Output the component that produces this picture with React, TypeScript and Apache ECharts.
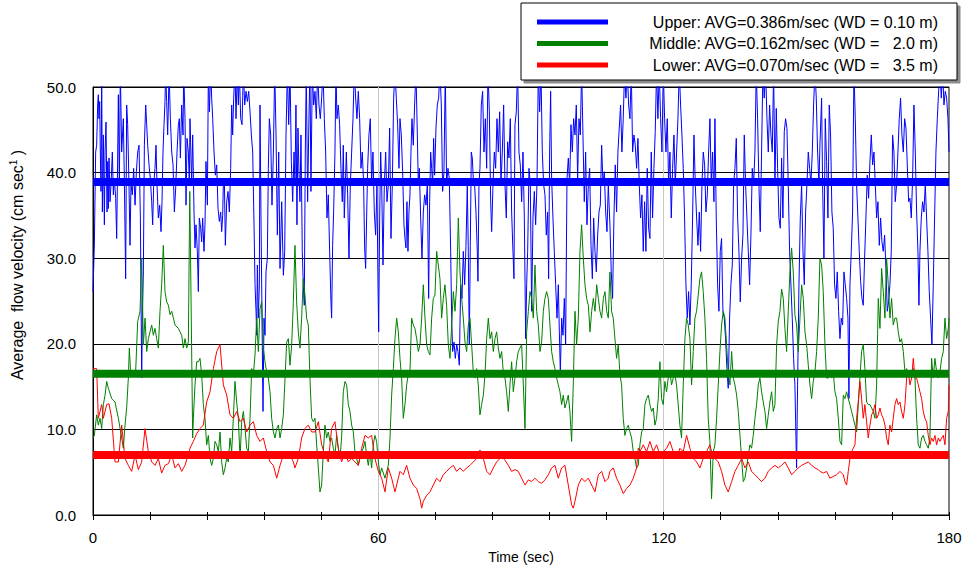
import React, { useEffect, useRef } from "react";
import * as echarts from "echarts";

// ---- Data (time in seconds, velocity in cm/s) ----
const seriesNames = [
  "Upper: AVG=0.386m/sec (WD = 0.10 m)",
  "Middle: AVG=0.162m/sec (WD =   2.0 m)",
  "Lower: AVG=0.070m/sec (WD =   3.5 m)",
];
const seriesColors = ["#0000FF", "#008000", "#FF0000"];
const averageLevels = [38.9, 16.5, 7.0];
const xRange = [0, 180];
const xTickStep = 12;
const xLabelStep = 60;
const yRange = [0, 50];
const yTickStep = 10;

const upperData: [number, number][] = [
  [0.0,26.1],[0.28,31.5],[0.56,42.4],[0.77,43.2],[0.98,47.9],[1.12,49.1],[1.26,46.3],[1.40,48.3],[1.54,42.4],[1.68,37.8],[1.83,52],[1.97,35.4],[2.18,44.4],[2.39,33.9],[2.53,42.4],[2.74,45.9],[2.95,35.4],[3.09,41.3],[3.23,35.8],[3.37,41.7],[3.58,36.6],[3.79,38.6],[4.07,42.4],[4.28,37.4],[4.49,39.3],[4.77,37.0],[4.98,32.3],[5.12,38.6],[5.33,49.1],[5.54,38.6],[5.75,52],[6.03,42.4],[6.38,46.3],[6.59,39.3],[6.87,27.6],[7.08,47.9],[7.29,45.6],[7.57,38.6],[7.78,31.5],[7.99,38.6],[8.27,37.4],[8.55,40.5],[8.84,36.2],[9.12,40.1],[9.40,42.4],[9.68,43.2],[9.96,34.7],[10.24,16.0],[10.38,23.0],[10.59,28.4],[10.80,43.2],[11.08,47.9],[11.29,45.6],[11.50,43.2],[11.78,40.9],[12.06,39.3],[12.34,36.6],[12.55,33.9],[12.76,38.6],[13.04,40.5],[13.25,43.2],[13.46,38.6],[13.74,34.7],[14.02,36.2],[14.30,33.1],[14.51,36.6],[14.72,42.4],[14.93,45.6],[15.14,48.3],[15.28,52],[15.49,48.3],[15.70,44.4],[15.85,47.9],[15.99,52],[16.27,46.3],[16.55,42.4],[16.83,40.9],[17.11,35.4],[17.39,38.2],[17.67,42.4],[17.95,45.6],[18.16,46.3],[18.37,41.7],[18.65,47.9],[18.93,44.4],[19.07,52],[19.35,46.3],[19.56,36.2],[19.77,44.0],[20.05,42.4],[20.26,38.6],
  [20.40,46.3],[20.75,38.6],[20.96,44.4],[21.24,35.4],[21.45,31.2],[21.66,33.9],[21.94,30.8],[22.15,26.1],[22.36,34.7],[22.64,33.5],[22.85,31.9],[23.06,34.7],[23.34,30.8],[23.55,33.9],[23.76,41.3],[24.05,36.2],[24.26,52],[24.47,47.1],[24.75,52],[24.96,48.7],[25.17,46.3],[25.45,42.4],[25.73,39.7],[26.01,40.9],[26.29,35.8],[26.57,34.3],[26.85,35.4],[27.06,33.1],[27.27,35.0],[27.41,38.6],[27.62,39.3],[27.83,31.5],[28.11,36.6],[28.39,37.8],[28.67,35.4],[28.95,40.5],[29.16,47.9],[29.37,44.4],[29.58,48.7],[29.86,52],[30.07,46.3],[30.35,52],[30.56,47.9],[30.77,52],[31.06,46.3],[31.34,45.6],[31.62,52],[31.90,47.9],[32.18,49.5],[32.46,48.3],[32.74,49.5],[33.02,47.1],[33.30,44.4],[33.58,42.4],[33.86,33.9],[34.07,26.9],[34.28,23.8],[34.42,21.0],[34.56,29.2],[34.77,23.0],[34.98,26.9],[35.12,47.9],[35.33,34.7],[35.54,23.0],[35.75,12.1],[35.96,23.0],[36.17,21.0],[36.38,28.4],[36.66,30.0],[36.87,40.5],[37.08,46.3],[37.36,44.4],[37.64,36.2],[37.93,42.4],[38.21,52],[38.49,44.4],[38.77,32.7],[39.05,42.4],[39.33,28.8],[39.68,36.6],[40.03,28.0],[40.31,30.8],[40.59,44.4],[40.87,52],[41.15,45.6],[41.43,52],[41.71,41.3],[41.99,36.6],[42.27,42.4],
  [42.47,38.6],[42.68,47.9],[42.89,33.9],[43.10,45.2],[43.31,40.1],[43.52,36.6],[43.73,44.4],[44.01,30.8],[44.22,26.9],[44.43,24.5],[44.64,42.4],[44.85,52],[45.13,36.6],[45.41,46.3],[45.62,52],[45.83,37.8],[46.12,52],[46.40,47.9],[46.68,49.5],[46.96,46.3],[47.24,52],[47.52,47.9],[47.80,46.3],[48.08,48.7],[48.36,52],[48.64,46.3],[48.92,42.4],[49.20,34.7],[49.48,37.4],[49.76,30.8],[50.04,24.9],[50.18,23.0],[50.39,31.5],[50.60,35.4],[50.88,42.4],[51.09,52],[51.30,46.3],[51.58,47.9],[51.86,45.6],[52.14,40.5],[52.42,36.6],[52.63,43.2],[52.84,34.7],[53.06,38.6],[53.27,42.4],[53.55,37.4],[53.83,30.0],[54.11,38.6],[54.39,42.4],[54.67,46.3],[54.95,52],[55.23,48.7],[55.51,46.3],[55.79,49.5],[56.07,46.3],[56.35,40.5],[56.63,42.4],[56.91,38.6],[57.12,31.2],[57.33,28.8],[57.54,34.7],[57.75,40.5],[58.03,44.4],[58.31,46.3],[58.59,38.6],[58.87,42.4],[59.15,35.4],[59.43,32.7],[59.71,38.6],[59.93,26.9],[60.07,21.4],[60.28,34.7],[60.49,42.4],[60.70,38.6],[60.98,29.2],[61.26,38.6],[61.54,42.4],[61.82,36.6],[62.10,38.6],[62.38,45.2],[62.66,32.3],[62.94,38.6],[63.22,48.7],[63.50,52],[63.78,48.7],[64.06,45.6],[64.34,40.5],
  [64.55,46.3],[64.83,44.4],[65.11,40.1],[65.39,33.9],[65.60,32.3],[65.81,31.2],[66.02,36.6],[66.23,30.8],[66.44,35.4],[66.65,37.4],[66.86,42.4],[67.07,46.3],[67.35,43.2],[67.63,47.9],[67.91,52],[68.20,44.4],[68.41,38.6],[68.62,40.5],[68.90,34.7],[69.18,30.0],[69.46,35.4],[69.74,37.4],[70.02,36.2],[70.30,38.6],[70.58,25.3],[70.79,36.6],[71.00,42.4],[71.21,40.5],[71.42,38.6],[71.63,44.0],[71.84,39.7],[72.12,45.2],[72.40,47.9],[72.68,48.7],[72.96,52],[73.24,47.9],[73.52,37.8],[73.80,40.1],[74.08,52],[74.36,38.6],[74.64,40.5],[74.92,39.3],[75.21,30.8],[75.42,23.0],[75.63,19.1],[75.91,20.2],[76.19,18.3],[76.47,19.9],[76.75,19.1],[77.03,17.5],[77.31,26.9],[77.59,25.3],[77.87,30.8],[78.15,26.9],[78.43,31.5],[78.71,38.6],[78.92,30.8],[79.13,19.9],[79.34,31.5],[79.55,42.4],[79.76,41.7],[79.97,39.3],[80.25,38.6],[80.53,35.4],[80.81,30.8],[80.95,27.3],[81.16,38.6],[81.37,40.5],[81.65,47.9],[81.93,49.5],[82.22,42.4],[82.50,46.3],[82.78,40.5],[83.06,52],[83.34,47.1],[83.62,36.6],[83.83,33.1],[84.11,38.6],[84.39,42.4],[84.67,40.5],[84.95,46.3],[85.23,42.4],[85.51,47.1],[85.79,38.6],[86.07,42.4],[86.35,47.9],
  [86.63,38.6],[86.91,34.7],[87.19,43.6],[87.47,41.7],[87.75,46.3],[88.03,35.4],[88.31,30.8],[88.52,27.6],[88.73,45.6],[89.01,47.1],[89.29,52],[89.57,42.4],[89.85,40.9],[90.14,36.6],[90.42,42.4],[90.70,34.7],[90.98,20.6],[91.19,26.9],[91.40,30.8],[91.68,40.5],[91.96,38.6],[92.24,23.8],[92.52,34.7],[92.80,37.8],[93.08,33.9],[93.36,38.6],[93.64,52],[93.92,47.1],[94.20,52],[94.48,42.4],[94.76,38.6],[95.04,37.4],[95.32,32.7],[95.60,35.4],[95.81,27.6],[96.02,42.4],[96.23,49.5],[96.44,39.3],[96.72,34.7],[97.00,30.8],[97.29,26.9],[97.57,23.0],[97.85,26.9],[98.06,21.4],[98.27,16.7],[98.55,23.0],[98.83,21.0],[99.11,25.3],[99.39,19.9],[99.67,39.3],[99.95,41.7],[100.23,38.6],[100.51,45.6],[100.79,42.4],[101.07,46.3],[101.35,44.4],[101.63,47.9],[101.91,39.3],[102.19,46.3],[102.47,44.4],[102.75,52],[103.03,44.4],[103.31,36.6],[103.59,42.4],[103.87,33.9],[104.16,38.6],[104.44,40.5],[104.72,31.5],[105.00,27.6],[105.28,34.7],[105.56,30.8],[105.84,28.4],[106.12,32.7],[106.40,35.4],[106.68,36.2],[106.96,43.2],[107.24,38.6],[107.52,40.1],[107.80,35.4],[108.08,33.1],[108.36,38.6],
  [108.70,33.9],[108.98,28.4],[109.26,25.3],[109.54,34.7],[109.82,40.9],[110.10,35.4],[110.38,42.4],[110.66,45.2],[110.94,47.9],[111.22,42.4],[111.50,46.3],[111.78,52],[112.06,48.7],[112.35,52],[112.63,47.9],[112.91,46.3],[113.19,52],[113.47,42.4],[113.75,44.4],[114.03,43.2],[114.31,40.5],[114.59,44.0],[114.87,38.6],[115.15,34.7],[115.43,37.4],[115.71,30.8],[115.99,36.6],[116.27,30.8],[116.55,40.5],[116.83,33.5],[117.11,32.3],[117.39,42.4],[117.67,34.7],[117.95,40.5],[118.23,44.8],[118.51,52],[118.79,46.3],[119.07,52],[119.36,46.3],[119.64,42.4],[119.92,52],[120.20,46.3],[120.48,42.4],[120.76,46.3],[121.04,38.6],[121.32,42.4],[121.60,34.7],[121.88,40.5],[122.16,44.4],[122.44,38.6],[122.72,42.4],[123.00,46.3],[123.28,52],[123.56,47.9],[123.84,44.4],[124.12,40.5],[124.40,34.7],[124.68,26.9],[124.96,23.0],[125.24,26.1],[125.52,22.2],[125.80,26.9],[126.08,34.7],[126.37,44.4],[126.65,38.6],[126.93,34.7],[127.21,31.5],[127.49,35.4],[127.77,30.8],[128.05,38.6],[128.33,42.4],[128.61,40.9],[128.89,35.4],[129.17,37.4],[129.45,42.4],[129.73,46.3],[130.01,38.6],[130.29,42.4],[130.57,36.6],
  [130.78,46.3],[131.06,34.7],[131.34,26.9],[131.62,23.8],[131.90,30.8],[132.18,32.3],[132.46,23.8],[132.74,23.0],[133.02,20.6],[133.30,17.1],[133.58,14.8],[133.86,23.0],[134.14,26.9],[134.43,29.2],[134.71,38.6],[134.99,40.5],[135.27,44.0],[135.55,34.7],[135.83,30.8],[136.11,24.9],[136.39,30.0],[136.67,32.7],[136.95,44.4],[137.23,38.6],[137.51,34.7],[137.79,30.8],[138.07,26.9],[138.35,32.7],[138.63,40.5],[138.91,38.6],[139.19,42.4],[139.47,52],[139.75,46.3],[140.03,38.6],[140.31,33.1],[140.59,42.4],[140.87,52],[141.15,48.7],[141.44,52],[141.72,46.3],[142.00,42.4],[142.28,47.9],[142.56,44.4],[142.84,42.4],[143.12,52],[143.40,38.6],[143.68,47.5],[143.96,40.5],[144.24,34.7],[144.52,33.5],[144.80,41.7],[145.08,34.7],[145.36,44.8],[145.64,46.3],[145.92,45.2],[146.20,38.6],[146.48,30.8],[146.76,26.9],[147.04,23.0],[147.32,18.3],[147.60,15.2],[147.81,9.3],[147.95,5.5],[148.16,15.2],[148.45,26.9],[148.73,34.7],[149.01,38.6],[149.29,30.8],[149.57,26.9],[149.85,35.4],[150.13,38.6],[150.41,42.4],[150.69,40.5],[150.97,38.6],[151.25,42.4],[151.53,47.9],[151.81,52],[152.09,48.7],[152.37,42.4],[152.65,38.6],
  [152.86,43.2],[153.21,48.7],[153.42,38.6],[153.70,30.0],[153.98,46.3],[154.26,41.3],[154.54,34.7],[154.82,47.9],[155.10,44.4],[155.38,35.4],[155.66,33.5],[155.94,26.9],[156.22,25.3],[156.51,28.4],[156.79,23.8],[157.07,20.6],[157.35,23.0],[157.63,22.2],[157.91,28.4],[158.19,26.9],[158.47,25.3],[158.75,23.0],[158.96,13.6],[159.17,26.9],[159.45,30.8],[159.73,35.4],[160.01,52],[160.29,46.3],[160.57,38.6],[160.85,34.7],[161.13,30.8],[161.41,27.3],[161.69,25.3],[161.97,24.5],[162.25,30.0],[162.53,34.7],[162.81,39.7],[163.09,37.0],[163.38,41.3],[163.66,44.4],[163.94,40.9],[164.22,42.4],[164.50,38.6],[164.78,34.7],[165.06,36.6],[165.34,31.5],[165.62,34.7],[165.90,31.9],[166.18,30.8],[166.46,32.7],[166.74,28.8],[167.02,23.8],[167.30,24.9],[167.58,26.9],[167.86,30.8],[168.14,44.4],[168.42,42.4],[168.70,36.6],[168.98,38.6],[169.26,42.4],[169.54,46.3],[169.82,48.7],[170.10,44.4],[170.39,42.4],[170.67,46.3],[170.95,45.2],[171.23,40.9],[171.51,36.6],[171.79,37.0],[172.07,34.7],[172.35,39.3],[172.63,47.9],[172.91,42.4],[173.19,35.4],[173.47,30.8],[173.68,24.5],[173.89,30.8],[174.17,34.7],[174.45,36.6],[174.73,35.4],[175.01,38.6],[175.29,34.7],[175.57,30.8],[175.85,26.1],[176.13,23.0],[176.41,19.9],[176.69,26.9],[176.97,34.7],[177.25,42.4],[177.54,46.3],[177.82,49.5],[178.10,52],[178.38,48.7],[178.66,52],[178.94,47.9],[179.22,49.5],[179.50,48.7],[179.78,46.3],[180,42.4],
];

const middleData: [number, number][] = [
  [0,9.0],[0.28,9.3],[0.77,11.7],[1.12,10.5],[1.47,11.3],[1.83,10.1],[2.18,12.9],[2.53,14.0],[2.88,15.6],[3.23,14.8],[3.93,13.6],[4.63,13.2],[5.33,11.3],[6.03,9.0],[6.38,7.8],[6.73,10.5],[7.08,12.5],[7.43,16.0],[7.64,19.5],[7.92,16.5],[8.49,16.5],[8.97,16.8],[9.40,22.6],[9.89,23.8],[10.24,30.0],[10.59,19.9],[10.94,23.0],[11.29,19.1],[11.64,20.6],[12.34,22.2],[12.69,21.0],[13.04,21.8],[13.39,20.6],[13.74,19.5],[14.09,23.8],[14.44,26.9],[14.79,31.5],[15.14,26.1],[15.49,24.9],[15.85,24.5],[16.20,23.4],[16.55,23.8],[16.90,23.0],[17.25,22.2],[17.95,21.8],[18.65,21.0],[19.00,19.5],[19.35,20.6],[19.70,19.5],[20.05,20.2],[20.35,37.8],[20.96,9.0],[21.10,11.3],[21.45,15.2],[21.80,17.9],[22.15,17.9],[22.50,18.3],[22.85,16.4],[23.20,12.9],[23.55,11.3],[23.90,8.2],[24.26,9.3],[24.61,6.6],[24.96,5.8],[25.31,6.6],[25.66,8.6],[26.01,8.2],[26.36,7.4],[26.71,9.7],[27.06,6.2],[27.41,4.7],[27.76,5.5],[28.11,6.6],[28.46,6.2],[28.81,9.0],[29.16,7.4],[29.51,11.3],[29.86,15.6],[30.21,13.2],[30.56,11.3],[30.92,6.6],[31.27,10.9],[31.62,12.1],[31.97,10.1],[32.32,7.8],[32.67,7.4],[33.02,11.3],[33.37,17.1],[33.72,16.4],[34.07,18.7],[34.42,23.0],[34.77,19.1],[35.12,24.1],[35.47,24.9],[35.82,19.5],[36.17,17.9],[36.52,16.7],[36.87,16.0],[37.22,14.4],[37.57,11.3],[37.93,9.7],[38.28,9.0],[38.63,10.1],[38.98,10.5],[39.33,9.0],[39.68,10.1],[40.03,11.7],[40.38,16.0],[40.73,20.2],[41.08,20.6],[41.43,17.5],[41.78,19.9],[42.13,24.9],
  [42.47,31.5],[42.82,24.9],[43.17,21.4],[43.52,19.5],[43.87,23.0],[44.22,27.6],[44.57,25.7],[44.92,23.0],[45.27,22.2],[45.62,16.0],[45.98,11.3],[46.33,10.9],[46.68,11.3],[47.03,8.2],[47.38,5.5],[47.73,2.7],[48.08,3.5],[48.43,7.4],[48.78,10.5],[49.13,9.0],[49.48,9.7],[49.83,8.6],[50.18,9.0],[50.53,7.8],[50.88,7.0],[51.23,9.3],[51.58,7.8],[51.93,6.6],[52.28,9.0],[52.63,14.4],[52.99,15.6],[53.34,15.2],[53.69,12.9],[54.04,12.1],[54.39,10.5],[54.74,9.7],[55.09,7.4],[55.44,6.6],[55.79,5.8],[56.14,6.6],[56.49,7.4],[56.84,7.8],[57.19,8.6],[57.54,7.0],[57.89,5.8],[58.24,7.4],[58.59,5.5],[58.94,8.2],[59.29,9.3],[59.64,8.6],[60.00,6.2],[60.35,4.7],[60.70,5.5],[61.40,4.3],[62.10,5.8],[62.45,9.0],[62.80,14.0],[63.15,17.1],[63.50,20.6],[63.85,23.0],[64.20,21.4],
  [64.55,18.3],[64.90,16.0],[65.25,11.3],[65.60,12.9],[65.95,15.2],[66.30,16.4],[66.65,16.7],[67.00,23.0],[67.35,22.2],[67.70,21.8],[68.06,20.6],[68.41,19.1],[68.76,19.9],[69.11,23.0],[69.46,26.9],[69.81,23.0],[70.16,19.9],[70.51,19.1],[70.86,18.7],[71.21,23.0],[71.56,25.3],[71.91,25.7],[72.26,30.8],[72.61,29.2],[72.96,27.6],[73.31,23.0],[73.66,25.3],[74.01,26.9],[74.36,24.5],[74.71,19.9],[75.07,18.3],[75.42,22.2],[75.77,26.1],[76.12,23.8],[76.47,26.9],[76.82,34.7],[77.17,28.4],[77.52,25.3],[77.87,23.0],[78.22,20.2],[78.57,19.1],[78.92,22.2],[79.27,23.0],[79.62,19.9],[79.97,16.7],[80.32,16.0],[80.67,17.1],[81.02,15.2],[81.37,11.7],[81.72,12.9],[82.08,14.0],[82.43,16.4],[82.78,20.6],[83.13,23.0],[83.48,20.6],[83.83,21.4],[84.18,19.1],[84.53,20.6],[84.88,21.4],[85.23,19.5],[85.58,18.3],[85.93,19.1],[86.28,16.7],
  [86.63,16.0],[86.98,14.4],[87.33,12.1],[87.68,15.2],[88.03,17.9],[88.38,14.4],[88.73,16.0],[89.08,17.9],[89.43,19.1],[89.78,19.5],[90.14,19.9],[90.49,15.2],[90.84,10.1],[91.19,21.4],[91.54,23.8],[91.89,26.1],[92.24,25.3],[92.59,23.0],[92.94,29.2],[93.29,23.8],[93.64,22.2],[93.99,19.1],[94.34,20.2],[94.69,23.8],[95.04,25.3],[95.39,26.1],[95.74,25.3],[96.09,22.2],[96.44,19.1],[96.79,17.9],[97.14,17.1],[97.49,16.0],[97.84,15.2],[98.19,14.4],[98.54,12.9],[98.89,14.0],[99.24,12.5],[99.59,13.2],[99.94,14.0],[100.29,12.1],[100.64,8.6],[100.99,15.2],[101.35,23.8],[101.70,19.9],[102.05,23.0],[102.40,30.8],[102.75,33.9],[103.10,30.0],[103.45,26.9],[103.80,25.3],[104.16,24.5],[104.51,21.4],[104.86,23.8],[105.21,25.3],[105.56,23.8],[105.91,26.9],[106.26,25.3],[106.61,23.8],[106.96,23.0],[107.31,25.3],[107.66,26.1],[108.01,23.8],[108.36,23.0],
  [108.70,28.4],[109.05,23.8],[109.40,23.0],[109.75,20.6],[110.10,18.3],[110.45,19.9],[110.80,16.4],[111.15,15.2],[111.50,11.3],[111.85,9.3],[112.21,10.1],[112.56,10.5],[112.91,9.7],[113.26,9.0],[113.61,7.4],[113.96,6.6],[114.31,5.5],[114.66,5.8],[115.01,8.2],[115.36,9.7],[115.71,10.1],[116.06,12.9],[116.41,13.6],[116.76,14.0],[117.11,12.9],[117.46,12.1],[117.81,12.5],[118.16,10.5],[118.51,11.3],[118.86,13.6],[119.21,17.9],[119.56,13.6],[119.91,12.9],[120.26,15.6],[120.61,14.4],[120.96,16.0],[121.31,16.7],[121.66,15.2],[122.01,16.0],[122.36,16.4],[122.71,15.2],[123.06,12.9],[123.41,10.5],[123.76,9.0],[124.12,15.2],[124.47,20.6],[124.82,23.0],[125.17,22.2],[125.52,20.6],[125.87,15.2],[126.22,19.1],[126.57,23.0],[126.92,23.8],[127.27,25.7],[127.62,27.6],[127.97,28.4],[128.32,26.1],[128.67,23.0],[129.02,18.3],[129.37,11.3],[129.72,8.6],[130.07,1.9],[130.43,7.4],
  [130.78,8.2],[131.13,11.3],[131.48,15.2],[131.83,19.1],[132.18,22.2],[132.53,23.8],[132.88,23.0],[133.23,19.9],[133.58,16.7],[133.93,15.2],[134.29,19.1],[134.64,16.0],[134.99,15.2],[135.34,14.0],[135.69,12.1],[136.04,9.3],[136.39,6.6],[136.74,3.9],[137.09,4.3],[137.44,5.5],[137.79,7.0],[138.14,8.2],[138.49,7.8],[138.84,9.3],[139.19,11.3],[139.54,12.9],[139.89,15.2],[140.24,16.0],[140.59,14.4],[140.94,13.2],[141.30,12.1],[141.65,10.1],[142.00,11.7],[142.35,13.2],[142.70,14.4],[143.05,12.1],[143.40,12.9],[143.75,19.9],[144.10,22.6],[144.45,23.8],[144.80,26.4],[145.15,25.3],[145.50,21.8],[145.85,19.1],[146.20,23.8],[146.55,28.4],[146.90,31.2],[147.25,28.4],[147.60,23.4],[147.95,22.2],[148.31,19.1],[148.66,23.0],[149.01,26.9],[149.36,25.3],[149.71,21.4],[150.06,19.9],[150.41,17.5],[150.76,15.2],[151.11,13.6],[151.46,15.6],[151.81,16.7],[152.16,19.1],[152.51,23.0],
  [152.86,30.0],[153.21,29.2],[153.56,26.1],[153.91,19.9],[154.26,16.0],[154.61,16.0],[154.96,16.4],[155.31,16.0],[155.66,16.7],[156.01,14.4],[156.37,13.6],[156.72,11.3],[157.07,8.6],[157.42,8.2],[157.77,14.0],[158.12,13.6],[158.47,14.4],[158.82,13.6],[159.17,12.9],[159.52,12.1],[159.87,11.3],[160.22,10.5],[160.57,9.7],[160.92,12.9],[161.27,16.0],[161.62,19.1],[161.97,19.9],[162.32,17.1],[162.67,13.2],[163.02,12.9],[163.38,12.9],[163.73,12.5],[164.08,12.1],[164.43,11.3],[164.78,15.2],[165.13,25.3],[165.48,21.8],[165.83,28.8],[166.18,26.1],[166.53,23.0],[166.88,30.0],[167.23,26.9],[167.58,23.0],[167.93,25.3],[168.28,22.2],[168.63,23.0],[168.98,23.0],[169.33,21.4],[169.68,20.2],[170.03,20.6],[170.39,19.1],[170.74,16.7],[171.09,17.1],[171.44,16.4],[171.79,16.7],[172.14,16.4],[172.49,17.1],[172.84,16.0],[173.19,11.3],[173.54,8.2],[173.89,7.8],[174.24,9.0],[174.59,9.3],[174.94,8.6],[175.29,8.2],[175.64,7.8],[175.99,9.0],[176.34,18.3],[176.69,16.0],[177.04,18.3],[177.40,16.7],[177.75,16.0],[178.10,16.7],[178.45,18.3],[178.80,19.1],[179.15,23.0],[179.50,20.6],[179.85,21.8],[180,23.0],
];

const lowerData: [number, number][] = [
  [0,17.1],[0.77,17.1],[1.12,11.3],[1.83,12.9],[2.18,11.3],[2.88,12.9],[3.37,13.0],[3.93,11.3],[4.63,6.2],[5.33,6.2],[6.03,10.5],[6.73,6.6],[7.43,5.8],[8.13,5.1],[8.84,7.0],[9.54,5.3],[10.24,6.2],[10.94,10.1],[11.64,7.4],[12.34,6.2],[13.04,5.8],[13.74,6.6],[14.44,4.9],[15.14,5.8],[15.85,6.0],[16.55,7.0],[17.25,5.5],[17.95,6.0],[18.65,5.1],[19.35,5.8],
  [20.40,7.8],[21.10,8.6],[21.80,9.5],[22.50,10.1],[23.20,10.5],[23.90,13.2],[24.61,14.4],[25.31,17.1],[26.01,19.1],[26.71,19.9],[27.41,15.2],[28.11,14.0],[28.81,11.7],[29.51,11.3],[30.21,12.1],[30.92,10.9],[31.62,11.3],[32.32,9.7],[33.02,10.5],[33.72,10.9],[34.42,9.3],[35.12,8.6],[35.82,9.0],[36.52,7.4],[37.22,6.2],[37.93,5.8],[38.63,4.3],[39.33,5.8],[40.03,7.0],[40.73,6.6],[41.43,7.0],[42.13,6.2],
  [42.47,5.5],[43.17,6.6],[43.87,9.0],[44.57,10.1],[45.27,10.5],[45.98,9.7],[46.68,9.7],[47.38,10.9],[48.08,8.2],[48.78,7.0],[49.48,6.2],[50.18,10.1],[50.88,10.9],[51.58,7.8],[52.28,6.2],[52.99,7.4],[53.69,6.2],[54.39,6.6],[55.09,6.2],[55.79,5.8],[56.49,7.8],[57.19,9.3],[57.89,9.0],[58.59,9.3],[59.29,6.6],[60.00,5.1],[60.70,4.3],[61.40,2.7],[62.10,5.5],[62.80,4.3],[63.50,2.7],[64.20,4.3],
  [64.55,5.1],[65.25,4.7],[65.95,5.8],[66.65,4.3],[67.35,3.5],[68.06,3.1],[68.76,1.9],[69.11,0.8],[69.46,1.6],[70.16,2.3],[70.86,2.7],[71.56,3.5],[72.26,4.3],[72.96,3.9],[73.66,4.7],[74.36,5.1],[75.07,5.5],[75.77,5.8],[76.47,5.1],[77.17,5.5],[77.87,5.1],[78.57,5.5],[79.27,5.8],[79.97,6.2],[80.67,6.6],[81.37,7.6],[82.08,6.6],[82.78,5.1],[83.48,4.7],[84.18,5.5],[84.88,6.2],[85.58,6.6],[86.28,6.6],
  [86.63,6.4],[87.33,5.8],[88.03,5.1],[88.73,5.3],[89.43,5.1],[90.14,4.3],[90.84,3.5],[91.54,4.1],[92.24,3.9],[92.94,4.3],[93.64,3.9],[94.34,3.7],[95.04,4.1],[95.74,4.7],[96.44,5.5],[97.14,5.8],[97.84,4.3],[98.54,5.5],[99.24,5.8],[99.94,3.5],[100.64,1.2],[100.99,0.8],[101.35,1.6],[102.05,3.5],[102.75,4.3],[103.45,3.9],[104.16,4.3],[104.86,3.5],[105.56,2.7],[106.26,4.7],[106.96,5.1],[107.66,3.9],[108.36,4.3],
  [108.70,5.1],[109.40,5.5],[110.10,4.3],[110.80,3.5],[111.50,2.5],[112.21,3.1],[112.91,3.5],[113.61,4.3],[114.31,5.5],[114.66,7.8],[115.01,7.4],[115.71,8.2],[116.41,7.4],[117.11,8.6],[117.81,7.4],[118.51,8.2],[119.21,7.0],[119.91,7.4],[120.61,7.8],[121.31,8.6],[122.01,7.4],[122.71,6.6],[123.41,7.8],[124.12,7.4],[124.82,9.3],[125.52,7.8],[126.22,6.6],[126.92,6.2],[127.62,5.5],[128.32,6.6],[129.02,7.4],[129.72,8.2],[130.43,6.6],
  [130.78,6.6],[131.48,6.2],[132.18,5.1],[132.88,3.5],[133.58,2.7],[134.29,3.9],[134.99,5.1],[135.69,5.8],[136.39,6.6],[137.09,5.5],[137.79,6.2],[138.49,5.1],[139.19,4.7],[139.89,4.3],[140.59,3.9],[141.30,4.3],[142.00,5.1],[142.70,5.5],[143.40,5.8],[144.10,5.5],[144.80,5.8],[145.50,6.2],[146.20,5.5],[146.90,4.7],[147.60,5.1],[148.31,5.5],[149.01,5.8],[149.71,6.0],[150.41,6.2],[151.11,5.8],[151.81,5.5],[152.51,5.3],
  [152.86,5.1],[153.56,4.9],[154.26,5.1],[154.96,4.3],[155.66,4.5],[156.37,4.7],[157.07,5.1],[157.77,4.7],[158.12,3.9],[158.47,3.5],[158.82,5.1],[159.17,6.6],[159.52,7.4],[159.87,7.8],[160.22,8.2],[160.57,11.3],[160.92,13.2],[161.27,15.6],[161.62,13.6],[161.97,11.3],[162.32,12.9],[162.67,10.9],[163.02,9.0],[163.38,10.5],[163.73,11.7],[164.08,12.1],[164.43,12.9],[164.78,11.3],[165.13,11.7],[165.48,12.5],[165.83,11.7],[166.18,11.3],[166.53,10.5],[166.88,9.0],[167.23,8.2],[167.58,10.5],[167.93,9.7],[168.28,11.3],[168.63,12.9],[168.98,13.6],[169.33,12.9],[169.68,13.2],[170.03,12.1],[170.39,11.3],[170.74,12.9],[171.09,16.0],[171.44,16.7],[171.79,15.2],[172.14,16.0],[172.49,18.3],[172.84,16.0],[173.19,16.0],[173.54,15.2],[173.89,14.4],[174.24,13.6],[174.59,12.1],[174.94,11.3],[175.29,10.9],[175.64,9.3],[175.99,8.2],[176.34,9.0],[176.69,8.6],[177.04,9.3],[177.40,8.2],[177.75,9.0],[178.10,8.6],[178.45,9.0],[178.80,9.3],[179.15,8.2],[179.50,11.3],[179.85,12.1],[180,15.2],
];

const rawSeries = [upperData, middleData, lowerData];

const FONT = 'Arial, "Liberation Sans", Helvetica, sans-serif';

function buildOption(): any {
  const thin = rawSeries.map((data, i) => ({
    name: seriesNames[i] + " data",
    type: "line",
    data,
    showSymbol: false,
    symbol: "none",
    clip: true,
    z: 2,
    lineStyle: { width: 1, color: seriesColors[i] },
    itemStyle: { color: seriesColors[i] },
    emphasis: { disabled: true },
  }));
  const avg = averageLevels.map((v, i) => ({
    name: seriesNames[i],
    type: "line",
    data: [
      [xRange[0], v],
      [xRange[1], v],
    ],
    showSymbol: false,
    symbol: "none",
    z: 3,
    lineStyle: { width: 8, color: seriesColors[i] },
    itemStyle: { color: seriesColors[i] },
    emphasis: { disabled: true },
  }));

  return {
    animation: false,
    backgroundColor: "#ffffff",
    textStyle: { fontFamily: FONT, color: "#000" },
    grid: {
      left: 93,
      right: 16,
      top: 87,
      bottom: 55,
      show: true,
      borderColor: "#000",
      borderWidth: 1,
      backgroundColor: "rgba(0,0,0,0)",
    },
    legend: {
      data: seriesNames,
      orient: "vertical",
      left: 521,
      top: 3,
      padding: [11, 19, 7, 16],
      itemGap: 5.5,
      itemWidth: 71,
      itemHeight: 5,
      icon: "rect",
      selectedMode: false,
      backgroundColor: "#ffffff",
      borderColor: "#000",
      borderWidth: 1,
      shadowColor: "rgba(0,0,0,0.45)",
      shadowBlur: 1,
      shadowOffsetX: 3,
      shadowOffsetY: 3,
      formatter: (name: string) => `{r|${name}}`,
      textStyle: {
        fontFamily: FONT,
        fontSize: 16,
        color: "#000",
        rich: {
          r: { width: 325, align: "right", fontSize: 16, lineHeight: 18, fontFamily: FONT, color: "#000" },
        },
      },
    },
    xAxis: [
      {
        type: "value",
        min: xRange[0],
        max: xRange[1],
        interval: xTickStep,
        position: "bottom",
        axisLine: { show: true, onZero: false, lineStyle: { color: "#000", width: 1 } },
        axisTick: { show: true, length: 5, lineStyle: { color: "#000" } },
        axisLabel: {
          formatter: (v: number) => (v % xLabelStep === 0 ? String(v) : ""),
          fontSize: 15,
          color: "#000",
          margin: 15,
          fontFamily: FONT,
        },
        splitLine: { show: false },
        name: "Time (sec)",
        nameLocation: "middle",
        nameGap: 31,
        nameTextStyle: { fontSize: 14, color: "#000", fontFamily: FONT },
      },
      {
        type: "value",
        min: xRange[0],
        max: xRange[1],
        interval: xTickStep,
        position: "bottom",
        axisLine: { show: false, onZero: false },
        axisTick: { show: true, inside: true, length: 3, lineStyle: { color: "#000" } },
        axisLabel: { show: false },
        splitLine: { show: false },
      },
      {
        type: "value",
        min: xRange[0],
        max: xRange[1],
        interval: xLabelStep,
        position: "bottom",
        axisLine: { show: false, onZero: false },
        axisTick: { show: false },
        axisLabel: { show: false },
        splitLine: {
          show: true,
          lineStyle: { color: ["rgba(0,0,0,0)", "#c8c8c8", "#c8c8c8", "rgba(0,0,0,0)"], width: 1 },
        },
      },
    ],
    yAxis: {
      type: "value",
      min: yRange[0],
      max: yRange[1],
      interval: yTickStep,
      axisLine: { show: true, lineStyle: { color: "#000", width: 1 } },
      axisTick: { show: false },
      axisLabel: {
        formatter: (v: number) => v.toFixed(1),
        fontSize: 15,
        color: "#000",
        margin: 17,
        fontFamily: FONT,
      },
      splitLine: { show: true, lineStyle: { color: "#000", width: 1 } },
      name: "{a|Average  flow velocity (cm sec}{s|1}{a| )}",
      nameLocation: "middle",
      nameGap: 67,
      nameTextStyle: {
        fontFamily: FONT,
        color: "#000",
        padding: [0, 0, 0, 72],
        rich: {
          a: { fontSize: 16, color: "#000", fontFamily: FONT, lineHeight: 18 },
          s: { fontSize: 10, color: "#000", fontFamily: FONT, verticalAlign: "top", lineHeight: 18 },
        },
      },
    },
    series: [...thin, ...avg],
  };
}

export default function App() {
  const ref = useRef<HTMLDivElement>(null);
  useEffect(() => {
    if (!ref.current) return;
    const chart = echarts.init(ref.current, undefined, { renderer: "svg" });
    chart.setOption(buildOption());
    return () => {
      chart.dispose();
    };
  }, []);
  return (
    <div
      ref={ref}
      style={{ position: "fixed", left: 0, top: 0, width: 965, height: 570, background: "#fff" }}
    />
  );
}
